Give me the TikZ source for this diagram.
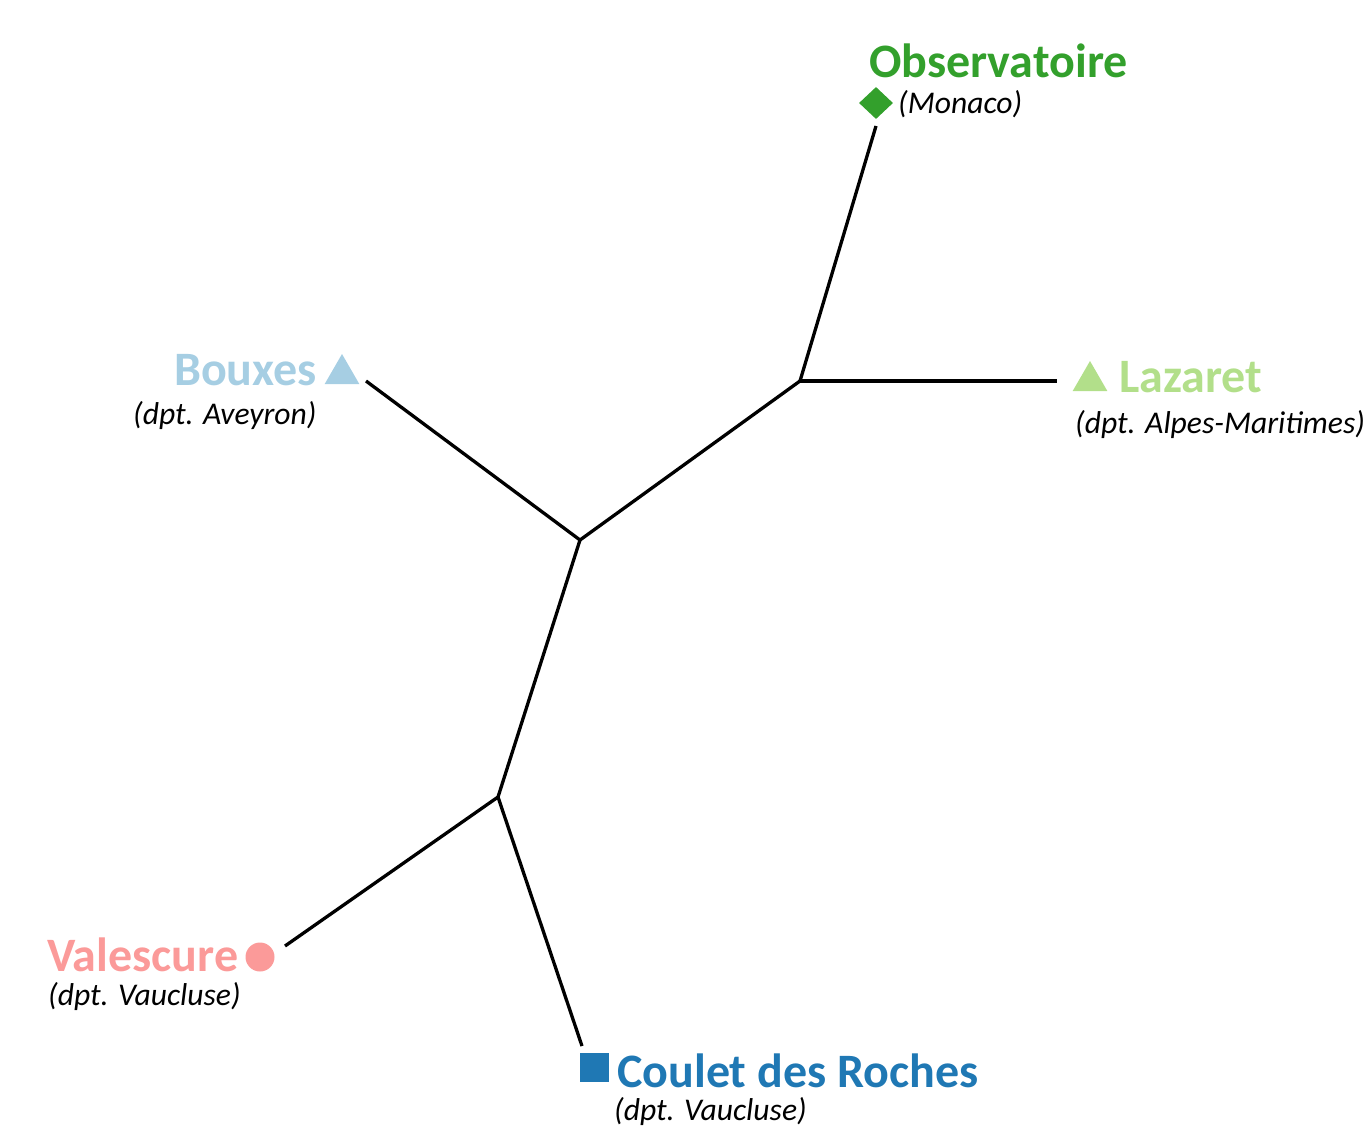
\documentclass[tikz,border=0pt]{standalone}
\usepackage{fontspec}
\setmainfont{Carlito}
\usetikzlibrary{shapes.geometric}
\definecolor{cObs}{HTML}{33A02C}
\definecolor{cLaz}{HTML}{B2DF8A}
\definecolor{cBou}{HTML}{A6CEE3}
\definecolor{cVal}{HTML}{FB9A99}
\definecolor{cCou}{HTML}{1F78B4}
\tikzset{
  branch/.style={line width=3.3pt, black, line cap=butt},
  name label/.style={inner sep=0pt, font=\bfseries\fontsize{48}{50}\selectfont},
  sub label/.style={inner sep=0pt, font=\itshape\fontsize{31.6}{34}\selectfont, text=black},
  tri/.style={regular polygon, regular polygon sides=3, inner sep=0pt, minimum size=40pt, draw=none},
}
\begin{document}
\begin{tikzpicture}[x=1pt,y=-1pt]
\useasboundingbox (0,0) rectangle (1364,1134);
% tree coordinates
\coordinate (A) at (800,381);
\coordinate (B) at (580,540);
\coordinate (C) at (498,797);
\coordinate (lObs) at (876,126);
\coordinate (lLaz) at (1057,381);
\coordinate (lBou) at (366,381);
\coordinate (lVal) at (285,946);
\coordinate (lCou) at (582,1046);
\draw[branch] (lObs) -- (A);
\draw[branch] (A) -- (lLaz);
\draw[branch] (A) -- (B);
\draw[branch] (B) -- (lBou);
\draw[branch] (B) -- (C);
\draw[branch] (C) -- (lVal);
\draw[branch] (C) -- (lCou);
% markers
\node[diamond, fill=cObs, inner sep=0pt, minimum width=34pt, minimum height=32pt] (mObs) at (876,103) {};
\node[tri, fill=cBou] (mBou) at (342,374) {};
\node[tri, fill=cLaz] (mLaz) at (1090,381) {};
\node[circle, fill=cVal, inner sep=0pt, minimum size=29pt] (mVal) at (260,957) {};
\node[rectangle, fill=cCou, inner sep=0pt, minimum size=29pt] (mCou) at (594,1067) {};
% labels
\node[name label, text=cObs, anchor=base west] (tObs) at (869,78) {Observatoire};
\node[sub label, anchor=base west] (sObs) at (898,114) {(Monaco)};
\node[name label, text=cBou, anchor=base east] (tBou) at (317,385) {Bouxes};
\node[sub label, anchor=base west] (sBou) at (133,424) {(dpt. Aveyron)};
\node[name label, text=cLaz, anchor=base west] (tLaz) at (1119,392) {Lazaret};
\node[sub label, anchor=base west] (sLaz) at (1075,433) {(dpt. Alpes-Maritimes)};
\node[name label, text=cVal, anchor=base west] (tVal) at (47,971) {Valescure};
\node[sub label, anchor=base west] (sVal) at (48,1005) {(dpt. Vaucluse)};
\node[name label, text=cCou, anchor=base west] (tCou) at (617,1087) {Coulet des Roches};
\node[sub label, anchor=base west] (sCou) at (614,1120) {(dpt. Vaucluse)};
\end{tikzpicture}
\end{document}
